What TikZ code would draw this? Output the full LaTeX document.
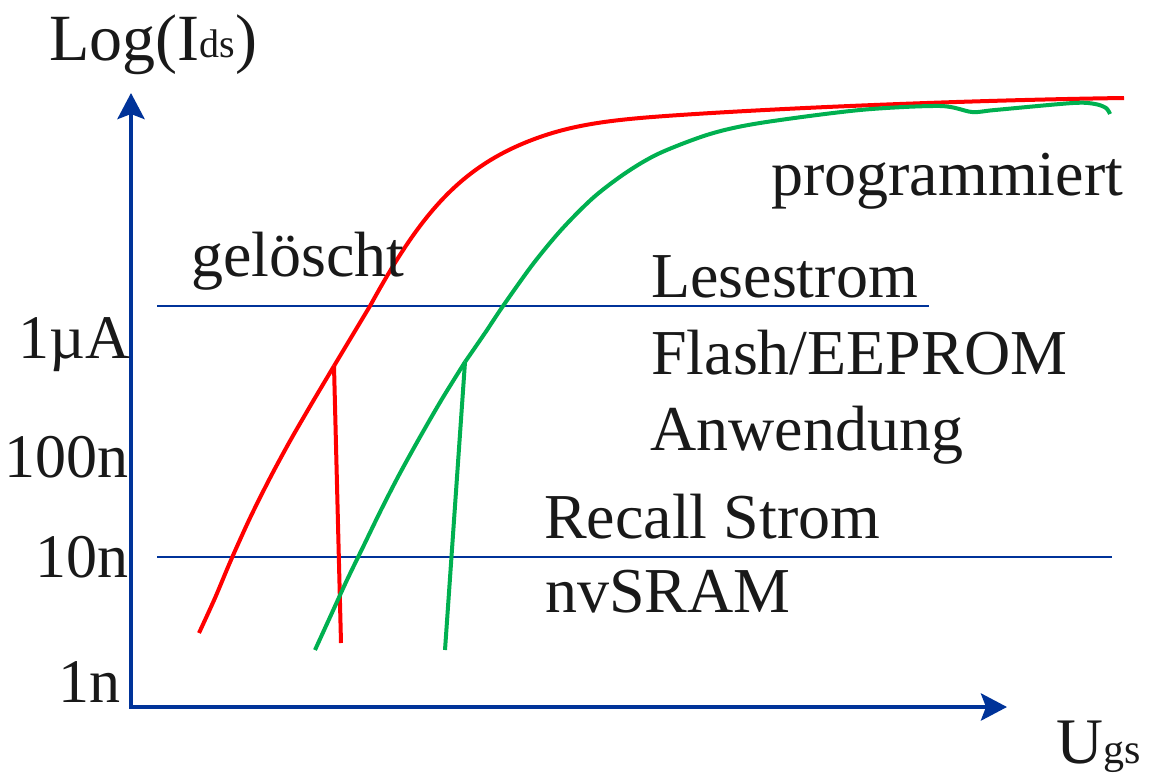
\documentclass[tikz,border=0pt]{standalone}
\usepackage{fontspec}
\setmainfont{Liberation Serif}
\usetikzlibrary{arrows.meta}
\definecolor{axisblue}{RGB}{0,51,153}
\definecolor{curvered}{RGB}{255,0,0}
\definecolor{curvegreen}{RGB}{0,176,80}
\tikzset{
  axisline/.style={draw=axisblue, line width=4.5pt, line join=miter,
    {Stealth[length=26pt,width=27pt,inset=5pt]}-{Stealth[length=26pt,width=27pt,inset=5pt]}},
  levelline/.style={draw=axisblue, line width=2pt},
  redcurve/.style={draw=curvered, line width=4pt, line join=round},
  greencurve/.style={draw=curvegreen, line width=4pt, line join=round},
  ticktext/.style={inner sep=0pt, text=black!90, font=\fontsize{62}{62}\selectfont},
  bigtext/.style={inner sep=0pt, text=black!90, font=\fontsize{64}{64}\selectfont},
}
\begin{document}
\begin{tikzpicture}[x=1pt,y=-1pt]
\useasboundingbox (0,0) rectangle (1153,779);

% axes
\coordinate (origin) at (131,707);
\coordinate (ytip) at (131,93);
\coordinate (xtip) at (1007,707);
\draw[axisline] (ytip) -- (origin) -- (xtip);

% level lines
\coordinate (l1a) at (157,306);
\coordinate (l1b) at (929,306);
\coordinate (l2a) at (157,557);
\coordinate (l2b) at (1112,557);
\draw[levelline] (l1a) -- (l1b);
\draw[levelline] (l2a) -- (l2b);

% red (erased) curve
\coordinate (rk) at (334,366);
\draw[redcurve] plot[smooth, tension=0.5] coordinates {
  (199,633) (215,598) (231,560) (250,518) (270,478) (290,441) (312,403) (334,366)};
\draw[redcurve] (rk) -- (370,306)
  .. controls (420,215) and (460,165) .. (540,137)
  .. controls (580,123) and (620,119) .. (680,115)
  .. controls (800,107) and (980,100) .. (1124,98);
\coordinate (rb) at (341,643);
\draw[redcurve] (rk) -- (rb);

% green (programmed) curve
\coordinate (gk) at (465,362);
\draw[greencurve] plot[smooth, tension=0.5] coordinates {
  (315,650) (331,615) (347,580) (364,545) (381,510) (399,475) (420,437) (442,399) (465,362)};
\draw[greencurve] plot[smooth, tension=0.5] coordinates {
  (465,362) (485,333) (503,306) (533,264) (562,229) (594,197) (627,172) (660,153) (710,134)
  (760,123) (860,110) (940,106) (972,112) (995,110) (1073,103) (1095,104) (1106,108) (1110,114)};
\coordinate (gb) at (445,650);
\draw[greencurve] (gk) -- (gb);

% axis titles
\node[inner sep=0pt, anchor=base west, text=black!90] (ylab) at (49,60)
  {\fontsize{66}{66}\selectfont Log(I\raisebox{2.5pt}{\fontsize{40}{40}\selectfont ds})};
\node[inner sep=0pt, anchor=base west, text=black!90] (xlab) at (1056,763)
  {\fontsize{65}{65}\selectfont U{\fontsize{42}{42}\selectfont gs}};

% tick labels
\node[ticktext, anchor=base east] (t1u) at (130,358) {1µA};
\node[ticktext, anchor=base east] (t100n) at (129,477) {100n};
\node[ticktext, anchor=base east] (t10n) at (129,577) {10n};
\node[ticktext, anchor=base east] (t1n) at (121,702) {1n};

% annotations
\node[bigtext, anchor=base west] (geloescht) at (191,276) {gelöscht};
\node[bigtext, anchor=base west] (prog) at (771,195) {programmiert};
\node[bigtext, anchor=base west] (lese) at (651,297) {Lesestrom};
\node[bigtext, anchor=base west] (flash) at (651,374) {Flash/EEPROM};
\node[bigtext, anchor=base west] (anw) at (650,450) {Anwendung};
\node[bigtext, anchor=base west] (recall) at (544,538) {Recall Strom};
\node[bigtext, anchor=base west] (nvsram) at (545,612) {nvSRAM};
\end{tikzpicture}
\end{document}
